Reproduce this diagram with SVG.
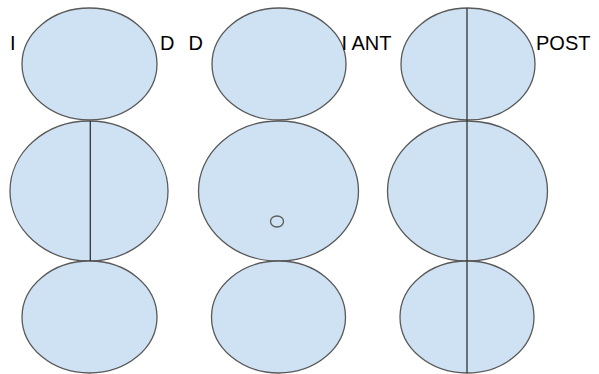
<svg xmlns="http://www.w3.org/2000/svg" width="599" height="374" viewBox="0 0 599 374">
<style>
.e{fill:#cfe2f3;stroke:#595959;stroke-width:1.3}
.l{stroke:#333;stroke-width:1.3;fill:none}
.t{font-family:"Liberation Sans",Arial,sans-serif;font-size:20px;fill:#000}
</style>
<rect width="599" height="374" fill="#fff"/>
<g id="col1">
<g id="c1-top"><ellipse class="e" cx="89.5" cy="64" rx="67.5" ry="56"/></g>
<g id="c1-mid"><ellipse class="e" cx="89" cy="191" rx="79" ry="70"/></g>
<g id="c1-bot"><ellipse class="e" cx="89.5" cy="317" rx="67.5" ry="56"/></g>
</g>
<g id="col2">
<g id="c2-top"><ellipse class="e" cx="279" cy="64" rx="67" ry="56"/></g>
<g id="c2-mid"><ellipse class="e" cx="278.5" cy="191" rx="80" ry="70"/></g>
<g id="c2-bot"><ellipse class="e" cx="278.5" cy="317" rx="67" ry="56"/></g>
<g id="c2-dot"><ellipse class="e" cx="277" cy="221.5" rx="6.5" ry="5.5"/></g>
</g>
<g id="col3">
<g id="c3-top"><ellipse class="e" cx="468" cy="64" rx="67" ry="56"/></g>
<g id="c3-mid"><ellipse class="e" cx="467.5" cy="191" rx="80" ry="70"/></g>
<g id="c3-bot"><ellipse class="e" cx="467" cy="317" rx="67" ry="56"/></g>
</g>
<g id="lines">
<line class="l" x1="90.3" y1="121" x2="90.3" y2="261"/>
<line class="l" x1="467" y1="8" x2="467" y2="373"/>
</g>
<g id="labels">
<text class="t" x="10" y="50">I</text>
<text class="t" x="160" y="50">D</text>
<text class="t" x="188.5" y="50">D</text>
<text class="t" x="341.5" y="50">I ANT</text>
<text class="t" x="536" y="50">POST</text>
</g>
</svg>
